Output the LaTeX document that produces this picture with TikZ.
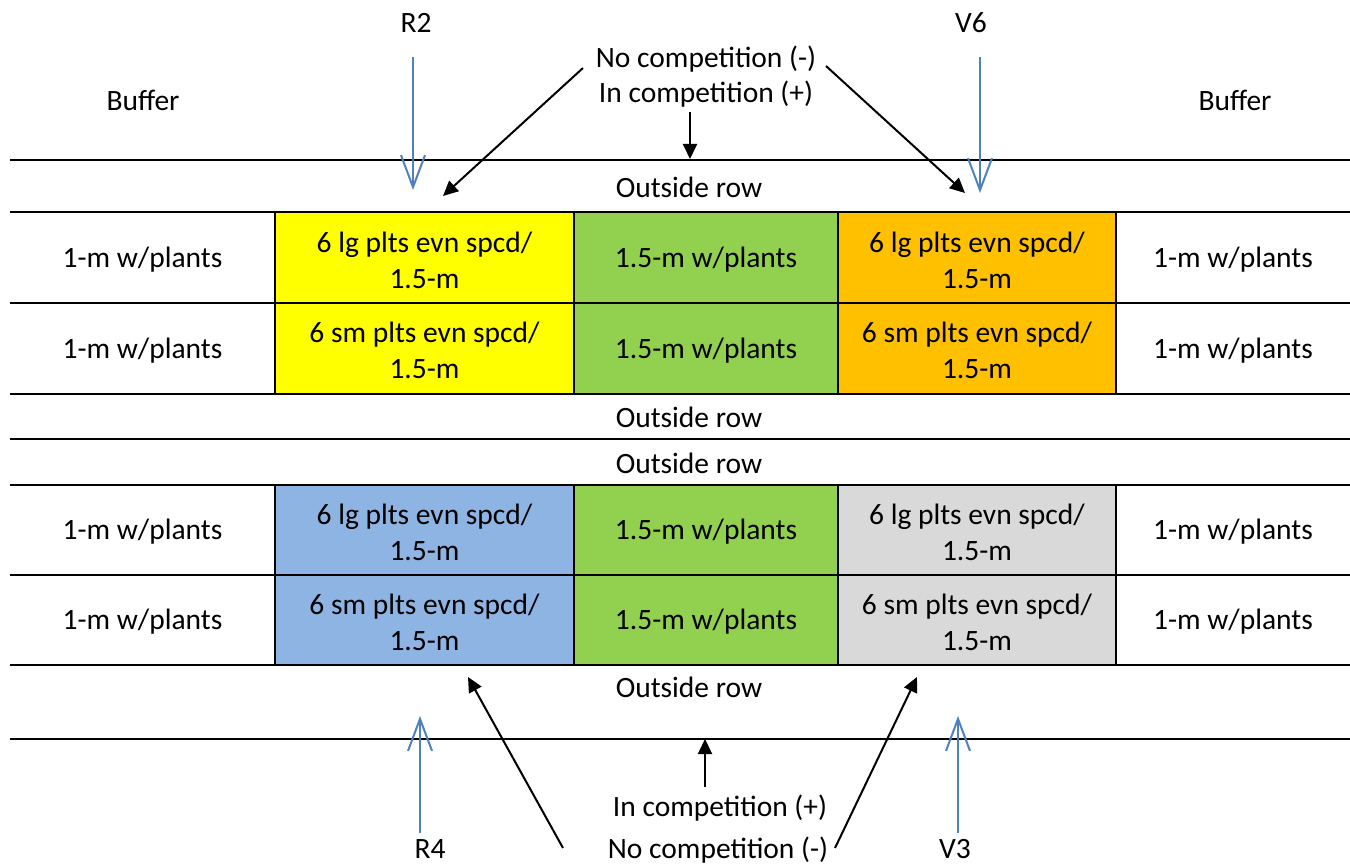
\documentclass[tikz,border=0pt]{standalone}
\usepackage{fontspec}
\setmainfont{Carlito}
\usetikzlibrary{arrows.meta}
\definecolor{cyel}{HTML}{FFFF00}
\definecolor{cgrn}{HTML}{92D050}
\definecolor{corg}{HTML}{FFC000}
\definecolor{cblu}{HTML}{8EB4E3}
\definecolor{cgry}{HTML}{D9D9D9}
\definecolor{arrblue}{HTML}{4F81BD}
\tikzset{
  txt/.style={font=\fontsize{29.5}{36}\selectfont, align=center, inner sep=0pt},
  lbl/.style={font=\fontsize{29.5}{36}\selectfont, inner sep=0pt},
  rule/.style={line width=2.2pt, black},
  blk/.style={line width=2pt, black, -{Triangle[length=15pt,width=14pt]}},
  blu/.style={line width=2pt, arrblue, -{Straight Barb[length=32pt,width=24pt]}},
}
\begin{document}
\begin{tikzpicture}[x=1pt,y=-1pt]
\useasboundingbox (0,0) rectangle (1350,866);
% coloured plots
\fill[cyel] (275,212) rectangle (574,394);
\fill[cgrn] (574,212) rectangle (838,394);
\fill[corg] (838,212) rectangle (1116,394);
\fill[cblu] (275,485) rectangle (574,665);
\fill[cgrn] (574,485) rectangle (838,665);
\fill[cgry] (838,485) rectangle (1116,665);
% row boundaries
\foreach \yy in {160,212,303,394,439,485,575,665,739}
  \draw[rule] (10,\yy) -- (1350,\yy);
% column boundaries
\foreach \xx in {275,574,838,1116} {
  \draw[rule] (\xx,212) -- (\xx,394);
  \draw[rule] (\xx,485) -- (\xx,665);
}
% labels above and below
\node[lbl] (buf1) at (143,100) {Buffer};
\node[lbl] (buf2) at (1235,100) {Buffer};
\node[lbl] (r2) at (416,23) {R2};
\node[lbl] (v6) at (971,23) {V6};
\node[lbl] (nc1) at (706,59) {No competition (-)};
\node[lbl] (ic1) at (706,94) {In competition (+)};
\node[lbl] (ic2) at (720,808) {In competition (+)};
\node[lbl] (nc2) at (718,850) {No competition (-)};
\node[lbl] (r4) at (430,849) {R4};
\node[lbl] (v3) at (955,849) {V3};
% outside rows
\node[lbl] (o1) at (689,187) {Outside row};
\node[lbl] (o2) at (689,417) {Outside row};
\node[lbl] (o3) at (689,463) {Outside row};
\node[lbl] (o4) at (689,687) {Outside row};
% plot rows
\foreach \yy/\nm/\sz in {260/a/lg,350.5/b/sm,532/c/lg,622/d/sm} {
  \node[lbl] (\nm1) at (142.5,\yy) {1-m w/plants};
  \node[txt] (\nm2) at (424.5,\yy) {6 \sz\ plts evn spcd/\\1.5-m};
  \node[lbl] (\nm3) at (706,\yy) {1.5-m w/plants};
  \node[txt] (\nm4) at (977,\yy) {6 \sz\ plts evn spcd/\\1.5-m};
  \node[lbl] (\nm5) at (1233,\yy) {1-m w/plants};
}
% arrow end points
\coordinate (r2s) at (413,57);   \coordinate (r2e) at (413,190);
\coordinate (v6s) at (980,57);   \coordinate (v6e) at (980,193);
\coordinate (r4s) at (420,833);  \coordinate (r4e) at (420,716);
\coordinate (v3s) at (958,833);  \coordinate (v3e) at (958,716);
\coordinate (t1s) at (583,68);   \coordinate (t1e) at (443,196);
\coordinate (t2s) at (826,66);   \coordinate (t2e) at (965,193);
\coordinate (t3s) at (690,112);  \coordinate (t3e) at (690,159);
\coordinate (b1s) at (563,848);  \coordinate (b1e) at (468,677);
\coordinate (b2s) at (835,848);  \coordinate (b2e) at (917,677);
\coordinate (b3s) at (705,787);  \coordinate (b3e) at (705,739);
% arrows
\draw[blu] (r2s) -- (r2e);
\draw[blu] (v6s) -- (v6e);
\draw[blu] (r4s) -- (r4e);
\draw[blu] (v3s) -- (v3e);
\draw[blk] (t1s) -- (t1e);
\draw[blk] (t2s) -- (t2e);
\draw[blk] (t3s) -- (t3e);
\draw[blk] (b1s) -- (b1e);
\draw[blk] (b2s) -- (b2e);
\draw[blk] (b3s) -- (b3e);
\end{tikzpicture}
\end{document}
